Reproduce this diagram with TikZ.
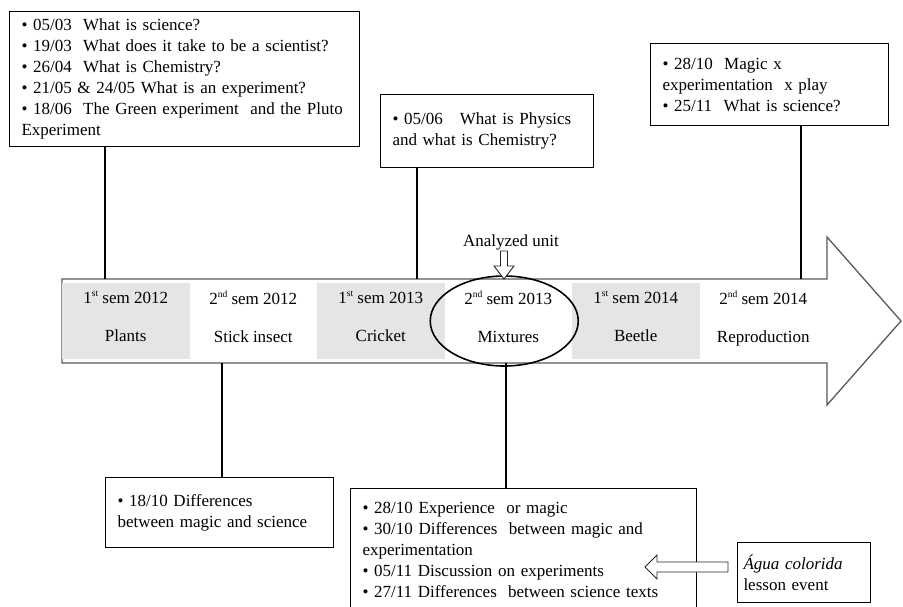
\documentclass[tikz,border=0pt]{standalone}
\usepackage{fontspec}
\setmainfont{Liberation Serif}
\usetikzlibrary{positioning}

\newcommand{\ordsup}[1]{\raisebox{6.5pt}{\fontsize{9.5pt}{9.5pt}\selectfont #1}}

\tikzset{
  infobox/.style={draw, line width=1pt, anchor=north west, inner xsep=12pt, inner ysep=0pt, align=left},
  semcell/.style={minimum width=127.5pt, minimum height=76pt, inner sep=0pt},
  timeline/.style={draw=black!65, line width=1.3pt, line join=miter},
  stem/.style={line width=2.2pt},
  hollow/.style={draw=black!85, line width=0.9pt, fill=white, line join=miter}
}

\begin{document}
\begin{tikzpicture}[x=1pt,y=-1pt,font=\fontsize{17pt}{21pt}\selectfont]
\useasboundingbox (0,0) rectangle (903,606);

% the time line
\draw[timeline] (62,279) -- (827,279) -- (827,237) -- (901,321) -- (827,405) -- (827,363) -- (62,363) -- cycle;
\coordinate (bodytop) at (0,279);
\coordinate (bodybottom) at (0,363);

% semesters
\foreach \fillc/\num/\ord/\yr/\topic [count=\i] in {black!10/1/st/2012/Plants, white/2/nd/2012/Stick insect,
    black!10/1/st/2013/Cricket, white/2/nd/2013/Mixtures, black!10/1/st/2014/Beetle, white/2/nd/2014/Reproduction}
{
  \node[semcell, fill=\fillc] (cell\i) at ({-1.75+127.5*\i},321) {};
  \node[align=center, anchor=north] (sem\i) at ([yshift=-5pt]cell\i.north) {\num\ordsup{\ord} sem \yr\\[17pt]\topic};
}

\draw[line width=1.6pt] ([xshift=-4pt]cell4.center) ellipse [x radius=74, y radius=45];
\node (analyzed) at (511,242) {Analyzed unit};
\coordinate (unittip) at (504,279);
\draw[hollow] (unittip) -- ++(-10,-13) -- ++(6.5,0) -- ++(0,-15) -- ++(7,0) -- ++(0,15) -- ++(6.5,0) -- cycle;

% lessons above
\node[infobox, text width=326pt, minimum height=135pt] (sciencebox) at (9,11)
  {• 05/03~ What is science?\\
   • 19/03~ What does it take to be a scientist?\\
   • 26/04~ What is Chemistry?\\
   • 21/05 \& 24/05 What is an experiment?\\
   • 18/06~ The Green experiment~ and the Pluto\\
   Experiment};
\node[infobox, text width=189pt, minimum height=73pt] (physicsbox) at (380,94)
  {• 05/06~~ What is Physics\\
   and what is Chemistry?};
\node[infobox, text width=214pt, minimum height=82pt] (magicbox) at (650,43)
  {• 28/10~ Magic x\\
   experimentation~ x play\\
   • 25/11~ What is science?};

% lessons below
\node[infobox, text width=204pt, minimum height=70pt] (diffbox) at (105,477)
  {• 18/10 Differences\\
   between magic and science\\[-6pt]};
\node[infobox, text width=322pt, minimum height=122pt] (mixbox) at (350,488)
  {• 28/10 Experience~ or magic\\
   • 30/10 Differences~ between magic and\\
   experimentation\\
   • 05/11 Discussion on experiments\\
   • 27/11 Differences~ between science texts};
\node[infobox, inner xsep=6pt, text width=121pt, minimum height=60pt] (waterbox) at (737,542)
  {\textit{Água colorida}\\
   lesson event};
\coordinate (watertip) at (645,567);
\draw[hollow] (watertip) -- ++(12,-12) -- ++(0,7) -- ++(71,0) -- ++(0,10) -- ++(-71,0) -- ++(0,7) -- cycle;

% stems
\draw[stem] ([xshift=96pt]sciencebox.south west) -- ([xshift=96pt]sciencebox.south west |- bodytop);
\draw[stem] ([xshift=37pt]physicsbox.south west) -- ([xshift=37pt]physicsbox.south west |- bodytop);
\draw[stem] ([xshift=151pt]magicbox.south west) -- ([xshift=151pt]magicbox.south west |- bodytop);
\draw[stem] ([xshift=117pt]diffbox.north west) -- ([xshift=117pt]diffbox.north west |- bodybottom);
\draw[stem] ([xshift=156pt]mixbox.north west) -- ([xshift=156pt]mixbox.north west |- bodybottom);
\end{tikzpicture}
\end{document}
